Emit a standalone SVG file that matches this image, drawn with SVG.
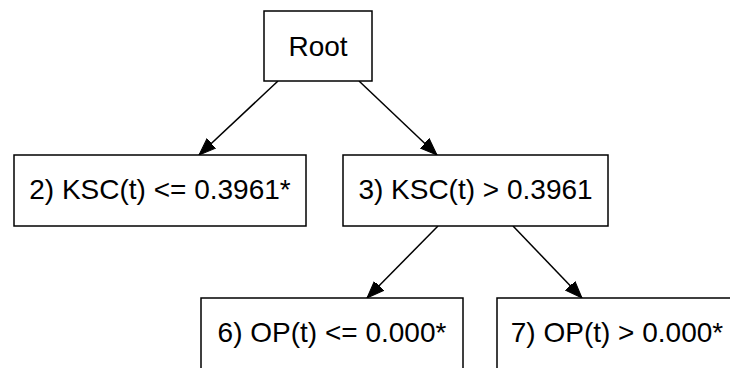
<svg xmlns="http://www.w3.org/2000/svg" width="730" height="368" viewBox="0 0 730 368">
<style>
.box{fill:#fff;stroke:#000;stroke-width:1.5}
.lbl{font-family:"Liberation Sans",Arial,Helvetica,sans-serif;font-size:28px;fill:#000;text-anchor:middle}
.edge{stroke:#000;stroke-width:1.5;fill:none}
</style>
<defs>
<marker id="arr" markerUnits="userSpaceOnUse" markerWidth="20" markerHeight="16" viewBox="0 -8 20 16" refX="17" refY="0" orient="auto">
<path d="M0,-6.5 L17,0 L0,6.5 Z" fill="#000" stroke="#000" stroke-width="1"/>
</marker>
</defs>
<rect width="730" height="368" fill="#fff"/>
<g id="edges">
<line class="edge" x1="278" y1="81" x2="199" y2="155" marker-end="url(#arr)"/>
<line class="edge" x1="359" y1="81" x2="437" y2="155" marker-end="url(#arr)"/>
<line class="edge" x1="438" y1="226" x2="367" y2="298" marker-end="url(#arr)"/>
<line class="edge" x1="513" y1="226" x2="582" y2="298" marker-end="url(#arr)"/>
</g>
<g id="node1">
<rect class="box" x="264" y="11" width="108" height="70"/>
<text class="lbl" x="318" y="56">Root</text>
</g>
<g id="node2">
<rect class="box" x="14" y="155" width="292" height="71"/>
<text class="lbl" x="160" y="199">2) KSC(t) &lt;= 0.3961*</text>
</g>
<g id="node3">
<rect class="box" x="343" y="155" width="265" height="71"/>
<text class="lbl" x="475.5" y="199">3) KSC(t) &gt; 0.3961</text>
</g>
<g id="node6">
<rect class="box" x="201" y="298" width="262" height="71"/>
<text class="lbl" x="332" y="342">6) OP(t) &lt;= 0.000*</text>
</g>
<g id="node7">
<rect class="box" x="497" y="298" width="260" height="71"/>
<text class="lbl" x="617" y="342">7) OP(t) &gt; 0.000*</text>
</g>
</svg>
